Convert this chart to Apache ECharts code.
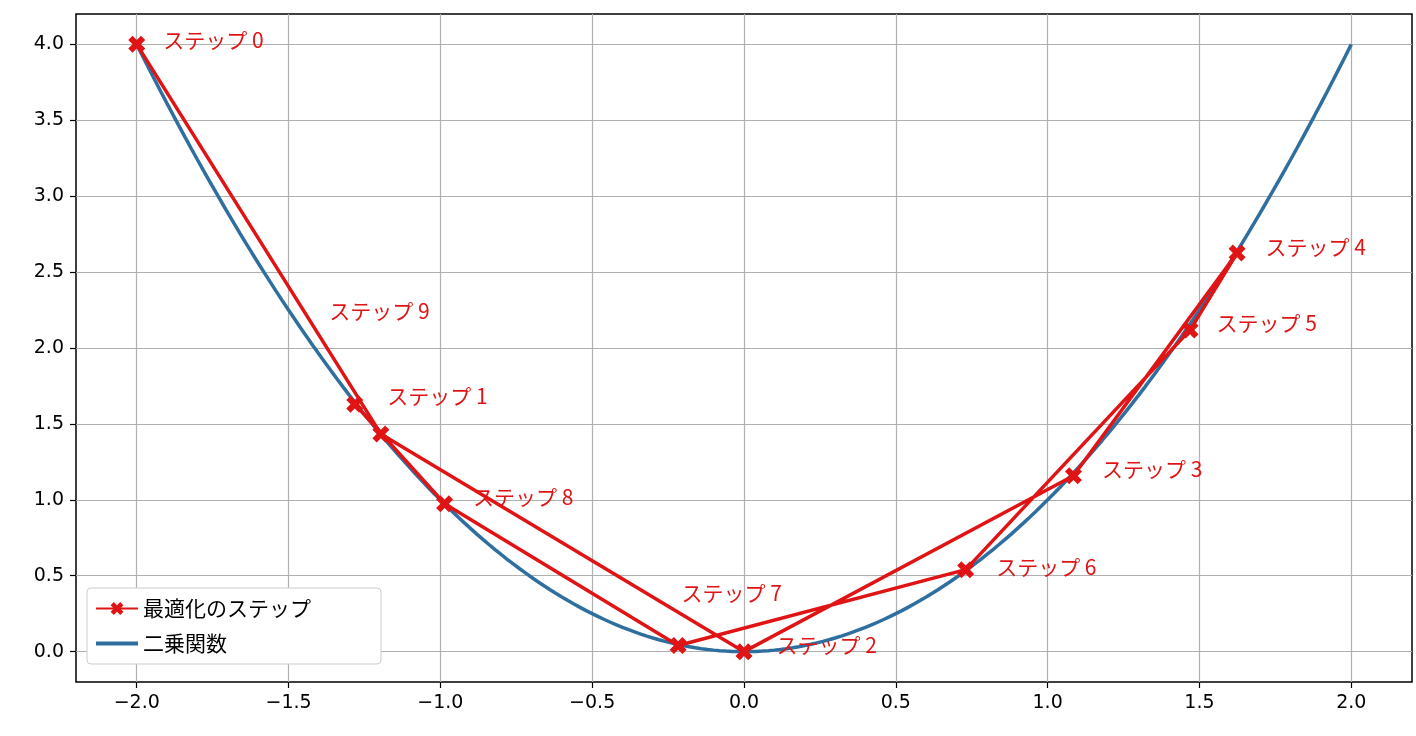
<!DOCTYPE html>
<html><head><meta charset="utf-8">
<script src="https://cdn.jsdelivr.net/npm/echarts@6/dist/echarts.min.js"></script>
<style>html,body{margin:0;padding:0;background:#fff}#c{width:1416px;height:736px}</style>
</head><body><div id="c"></div>
<script>
const stepX = [-2.0, -1.196, 0.0, 1.085, 1.624, 1.469, 0.73, -0.217, -0.986, -1.282];
const stepY = [4.0, 1.434, 0.0, 1.158, 2.625, 2.118, 0.54, 0.04, 0.974, 1.63];
const stepNames = ['ステップ 0','ステップ 1','ステップ 2','ステップ 3','ステップ 4','ステップ 5','ステップ 6','ステップ 7','ステップ 8','ステップ 9'];
const labelShift = [[26,-4],[6,-38],[32,-7],[28,-7],[28,-6],[26,-7],[30,-3],[3,-53],[28,-7],[-26,-93]];
const xTicks = [-2.0,-1.5,-1.0,-0.5,0.0,0.5,1.0,1.5,2.0];
const yTicks = [0,0.5,1,1.5,2,2.5,3,3.5,4];
const curveN = 200;
const curve = [];
for (let i = 0; i <= curveN; i++) { const x = -2 + 4 * i / curveN; curve.push([x, x * x]); }

const RED = '#e01414', BLUE = '#2f6f9f';
const FONT = '"Noto Sans CJK JP","DejaVu Sans",sans-serif';
const TFONT = '"DejaVu Sans",sans-serif';
const xMark = 'path://M0,2.5 L2.5,0 L5,2.5 L7.5,0 L10,2.5 L7.5,5 L10,7.5 L7.5,10 L5,7.5 L2.5,10 L0,7.5 L2.5,5 Z';

const stepData = stepX.map((x, i) => ({
  value: [x, stepY[i]],
  label: { show: true, formatter: stepNames[i], position: 'right', distance: 0,
    offset: [labelShift[i][0] - 8, labelShift[i][1]], color: RED, fontSize: 21, fontFamily: FONT }
}));

const chart = echarts.init(document.getElementById('c'));
chart.setOption({
  animation: false,
  grid: { left: 76, right: 4, top: 14, bottom: 54, show: true, borderColor: '#000', borderWidth: 1.5 },
  xAxis: { type: 'value', min: -2.2, max: 2.2, interval: 0.5,
    axisLine: { show: false, onZero: false },
    axisLabel: { color: '#000', fontSize: 19, fontFamily: TFONT, margin: 12,
      customValues: xTicks, formatter: v => (v < 0 ? '−' : '') + Math.abs(v).toFixed(1) },
    axisTick: { show: true, customValues: xTicks, length: 6, lineStyle: { color: '#000', width: 1.2 } },
    splitLine: { lineStyle: { color: '#b0b0b0', width: 1.2 } }
  },
  yAxis: { type: 'value', min: -0.2, max: 4.2, interval: 0.5,
    axisLine: { show: false, onZero: false },
    axisLabel: { color: '#000', fontSize: 19, fontFamily: TFONT, margin: 12,
      customValues: yTicks, formatter: v => v.toFixed(1) },
    axisTick: { show: true, customValues: yTicks, length: 6, lineStyle: { color: '#000', width: 1.2 } },
    splitLine: { lineStyle: { color: '#b0b0b0', width: 1.2 } }
  },
  legend: { left: 87, top: 588, orient: 'vertical', itemWidth: 42, itemHeight: 16, itemGap: 14,
    padding: [10, 70, 10, 8], backgroundColor: '#fff', borderColor: '#ccc', borderWidth: 1, borderRadius: 4,
    textStyle: { fontSize: 21, fontFamily: FONT, color: '#000' },
    data: [{ name: '最適化のステップ' },
      { name: '二乗関数', icon: 'path://M0,6 L40,6 L40,10 L0,10 Z', itemStyle: { color: BLUE } }] },
  series: [
    { name: '二乗関数', type: 'line', data: curve, showSymbol: false, z: 2,
      lineStyle: { color: BLUE, width: 3.5 }, itemStyle: { color: BLUE } },
    { name: '最適化のステップ', type: 'line', data: stepData, symbol: xMark, symbolSize: 17, z: 3,
      lineStyle: { color: RED, width: 3.5 }, itemStyle: { color: RED } }
  ]
});
</script></body></html>
